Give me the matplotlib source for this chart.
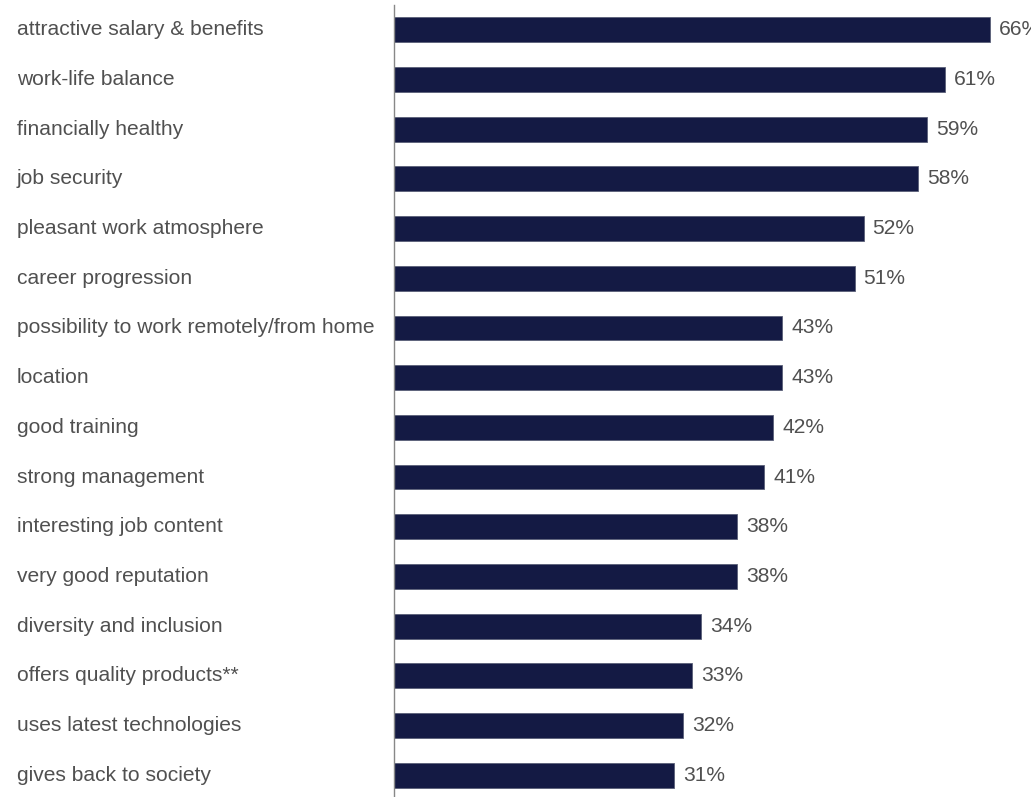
import matplotlib.pyplot as plt
from matplotlib.transforms import blended_transform_factory

# survey: what makes an employer attractive
labels = ['attractive salary & benefits', 'work-life balance', 'financially healthy',
          'job security', 'pleasant work atmosphere', 'career progression',
          'possibility to work remotely/from home', 'location', 'good training',
          'strong management', 'interesting job content', 'very good reputation',
          'diversity and inclusion', 'offers quality products**',
          'uses latest technologies', 'gives back to society']
shares = [66, 61, 59, 58, 52, 51, 43, 43, 42, 41, 38, 38, 34, 33, 32, 31]


def main():
    W, H = 1031, 797
    fig = plt.figure(figsize=(W / 100, H / 100), dpi=100)
    plt.rcParams['font.family'] = ['Liberation Sans', 'DejaVu Sans']

    left, top = 394, 5
    ax = fig.add_axes([left / W, 0, 1 - left / W, 1 - top / H])

    pos = list(range(len(labels)))
    ax.barh(pos, shares, height=0.5, color='#141a44', edgecolor='#5a5f78', linewidth=0.6)

    ax.set_xlim(0, (W - left) / 9.03)
    ax.set_ylim(15.44, -0.5)

    for s in ['top', 'right', 'bottom']:
        ax.spines[s].set_visible(False)
    ax.spines['left'].set_color('#888888')
    ax.spines['left'].set_linewidth(1.0)
    ax.set_xticks([])
    ax.set_yticks([])

    fs = 15.1
    trans = blended_transform_factory(fig.transFigure, ax.transData)
    for p, lab, v in zip(pos, labels, shares):
        ax.text(17 / W, p, lab, transform=trans, ha='left', va='center',
                fontsize=fs, color='#505050', clip_on=False)
        # the top value runs past the right edge, as in the source
        ax.annotate('%d%%' % v, (v, p), xytext=(6.5, 0), textcoords='offset points',
                    ha='left', va='center', fontsize=fs, color='#505050',
                    annotation_clip=False)

    fig.savefig('out.png', dpi=100)


if __name__ == "__main__":
    main()
